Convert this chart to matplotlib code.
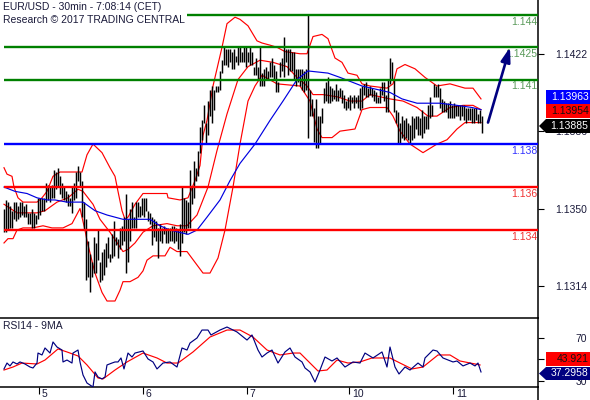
import numpy as np
import matplotlib
matplotlib.use("Agg")
import matplotlib.pyplot as plt
from matplotlib.patches import Polygon, Rectangle

plt.rcParams['font.family'] = ['Liberation Sans', 'DejaVu Sans']

# Prices are stored in 1/10000 units (11440 = 1.1440)
high = [11350,11354,11353,11351,11349,11353,11353,11351,11353,11353,11351,11352,11348,11348,11350,11348,11347,11355,11355,11355,11355,11362,11361,11360,11361,11368,11367,11369,11365,11362,11360,11358,11357,11355,11360,11362,11367,11370,11367,11363,11353,11345,11335,11329,11325,11337,11334,11340,
        11325,11330,11331,11334,11337,11329,11338,11344,11337,11336,11341,11342,11346,11357,11345,11350,11353,11346,11353,11353,11351,11355,11355,11355,11349,11348,11346,11345,11344,11341,11343,11341,11342,11341,11341,11341,11342,11342,11341,11340,11343,11360,11355,11354,11353,11368,11360,11372,11369,11377,
        11388,11391,11398,11390,11400,11405,11407,11405,11407,11407,11414,11419,11425,11424,11424,11424,11423,11424,11421,11425,11425,11423,11425,11425,11423,11425,11423,11416,11420,11416,11425,11413,11415,11416,11414,11418,11420,11417,11414,11409,11418,11420,11430,11424,11424,11424,11423,11423,11415,11415,11415,11415,11414,11415,11440,11405,11401,11397,11401,11393,11393,
        11397,11406,11409,11411,11407,11406,11405,11408,11405,11406,11405,11403,11400,11402,11403,11402,11403,11402,11403,11406,11407,11408,11409,11406,11407,11406,11405,11404,11402,11406,11409,11409,11403,11410,11420,11418,11410,11396,11395,11390,11393,11391,11392,11390,11389,11393,11392,11393,11393,11392,11396,11393,11393,11398,11402,11398,11408,11407,11408,11406,11401,11400,11399,11399,11400,11398,11399,11398,11398,11398,11398,11398,11397,11397,11397,11397,11397,11397,11394,11396,11393]
low = [11339,11339,11340,11341,11341,11345,11344,11345,11346,11347,11346,11346,11343,11343,11341,11341,11343,11345,11347,11349,11349,11353,11354,11353,11355,11355,11359,11360,11357,11355,11354,11353,11351,11351,11348,11354,11355,11363,11360,11346,11340,11317,11318,11311,11318,11320,11320,11326,
       11316,11317,11319,11323,11327,11325,11327,11328,11333,11327,11331,11333,11335,11320,11325,11335,11341,11341,11341,11346,11346,11347,11346,11349,11344,11343,11333,11337,11335,11327,11335,11334,11338,11334,11334,11335,11335,11334,11335,11331,11328,11334,11339,11338,11341,11341,11352,11355,11363,11365,
       11376,11382,11390,11380,11384,11393,11390,11396,11404,11404,11405,11413,11417,11417,11416,11418,11415,11415,11418,11417,11418,11418,11418,11416,11418,11417,11417,11412,11412,11410,11407,11407,11407,11410,11410,11411,11411,11410,11404,11404,11411,11414,11411,11418,11412,11414,11414,11410,11407,11409,11407,11405,11404,11405,11383,11393,11393,11381,11378,11378,11380,
       11390,11399,11400,11399,11399,11400,11401,11400,11400,11402,11399,11397,11396,11397,11396,11399,11397,11399,11397,11396,11397,11403,11402,11402,11403,11402,11400,11399,11399,11399,11403,11400,11395,11395,11408,11410,11395,11390,11380,11380,11383,11382,11383,11382,11380,11382,11383,11387,11384,11384,11383,11385,11387,11387,11392,11393,11402,11402,11402,11397,11395,11395,11395,11392,11392,11392,11392,11393,11393,11391,11393,11391,11390,11391,11391,11390,11390,11391,11390,11390,11385]

upper_x = [0,1.5,4,5,7,9.5,16.5,19,21.5,24.5,28,34,37,39,41.5,44.5,49,53,55.5,57,59,60.5,62,65.5,69.5,74.5,81.5,82,88,92,95.5,98,99.5,101.5,104.5,109,111.5,115.5,118,122,126.5,129,133,136.5,140.5,148,151.5,154.5,159,162,165.5,169,172,176.5,179,183,191.5,194.5,196.5,200.5,205.5,210.5,216.5,223,230.5,234.5,238.5]
upper = [11369,11366,11365,11360,11355,11353,11353,11355,11358,11365,11367,11367,11367,11367,11375,11380,11376,11369,11365,11358,11349,11345,11346,11352,11357,11357,11357,11355,11354,11355,11363,11370,11384,11391,11407,11425,11436,11439,11438,11435,11428,11427,11426,11425,11423,11422,11422,11430,11431,11429,11420,11418,11413,11412,11408,11407,11406,11408,11415,11417,11415,11411,11407,11408,11406,11406,11401]

middle_x = [0,6.5,11.5,16.5,20.5,26.5,32,37,39.5,44.5,48,53,59.5,62,65.5,69.5,74.5,81.5,86.5,91.5,96.5,102,106.5,111.5,117,122,128,134.5,141.5,146.5,151.5,154.5,159.5,166.5,173,179,183,193,199.5,206.5,212,216.5,223,229.5,234.5,238.5]
middle = [11352,11348,11348,11348,11349,11353,11355,11359,11358,11352,11345,11339,11330,11331,11334,11339,11342,11343,11342,11342,11347,11360,11377,11394,11410,11416,11419,11418,11416,11411,11407,11403,11403,11402,11400,11400,11403,11401,11400,11397,11393,11393,11397,11398,11398,11396]

lower_x = [0,2,4.5,6.5,9.5,14.5,19.5,24,29.5,34,38,40.5,41.5,45.5,49,51.5,55.5,58,59.5,63,67,69.5,71.5,74.5,80.5,83,86.5,91.5,95.5,99.5,103,107,110.5,114.5,118,122,125.5,129,136.5,148,153,156.5,159,164,168,175.5,179,183,191.5,194.5,198,203,209.5,216.5,221.5,226.5,230.5,238.5]
lower = [11334,11336,11336,11340,11341,11341,11342,11341,11341,11343,11350,11340,11335,11320,11311,11307,11307,11312,11316,11316,11318,11321,11326,11328,11328,11332,11330,11330,11325,11320,11320,11327,11340,11360,11380,11400,11407,11412,11408,11407,11400,11387,11383,11383,11386,11387,11396,11397,11397,11393,11386,11380,11376,11380,11382,11387,11390,11390]

ma_x = [0,5.5,11.5,16.5,21.5,25.5,31.5,34.5,39.5,45.5,51.5,59.5,67,73,78,83,92,96.5,101.5,108,113,118,125.5,133,139.5,146.5,152,162,168,179,193,199,206.5,218,226.5,234,238.5]
ma = [11360,11358,11357,11355,11354,11354,11353,11353,11353,11349,11347,11345,11345,11345,11342,11340,11338,11340,11346,11354,11363,11371,11380,11391,11400,11410,11414,11413,11411,11407,11404,11401,11399,11399,11398,11397,11396]

rsi_x = [0,1.5,3,4.5,6.5,8,10.5,13,14.5,16.5,17,19,20.5,23,24.5,26.5,29,29.5,31.5,34,34.5,37,38,39.5,41.5,44.5,45.5,47,49,50.5,51.5,54,55.5,57,58.5,60,62,64,65.5,69.5,72,74.5,76.5,79.5,83,86.5,89,91.5,93,96.5,99,102,103.5,108,111.5,116.5,121.5,124,127,129,131.5,134,137,140.5,143,145.5,149,150.5,153,155.5,158,160.5,164,166.5,170.5,174.5,178,180.5,184.5,189,191.5,193,195.5,197.5,200.5,203,207,209.5,210.5,214.5,216.5,219.5,224.5,226.5,229.5,233,235.5,237,238.5]
rsi = [41.2,46.7,44,47.7,45.8,47.7,45.8,43,42.1,46.7,56,54.2,60.7,56,66.3,61.6,58.8,47.7,49.5,46.7,56,58.8,47.7,35.6,28.1,24.4,38.4,33.7,31.9,33.7,44.9,46.7,47.7,47.7,51.4,41.2,56,52.3,56,57.9,50.5,47.7,41.2,46.7,47.7,43,60.7,58.8,65.3,70,77.4,77.4,72.8,77.4,80.2,75.6,68.1,72.8,58.8,52.3,56,58.8,46.7,57,60.7,52.3,47.7,42.1,38.4,29,40.2,52.3,48.6,51.4,43,47.7,46.7,56,51.4,57,43,61.6,43,36.5,43,40.2,46.7,43,51.4,58.8,57.9,51.4,47.7,48.6,44,46.7,44,46.7,38.4]

rsi_ma_x = [0,4.5,9,16.5,20.5,27,31.5,37,41.5,47,49.5,55.5,61.5,69.5,76.5,81.5,87,94.5,103,111.5,118,124.5,131.5,138,144.5,148,151.5,157,161.5,166.5,172,178,184,193,198,204,209.5,217,223,228,238]
rsi_ma = [40.2,43,46.7,45.8,49.5,59.8,57,53.3,44.9,32.8,31.9,40.2,47.7,56,51.4,46.7,46.7,57,70.9,77.4,77.4,70.9,58.8,54.2,56,56,49.5,39.3,40.2,49.5,46.7,47.7,51.4,51.4,46.7,41.2,43,54.2,54.2,48.6,44.9]

levels = [11440, 11425, 11410, 11380, 11360, 11340]
level_start = [91.5, 0, 0, 0, 0, 0]
level_colors = ['#008000', '#008000', '#008000', '#0000ff', '#ff0000', '#ff0000']
level_labels = ['1.144', '1.1425', '1.141', '1.138', '1.136', '1.134']
level_text_colors = ['#5a9a5a', '#5a9a5a', '#5a9a5a', '#3030ff', '#f03030', '#f03030']

day_ticks = [17.5, 69.5, 121.5, 172.5, 224.5]
day_labels = ['5', '6', '7', '10', '11']
price_ticks = [11422, 11386, 11350, 11314]
price_labels = ['1.1422', '1.1386', '1.1350', '1.1314']
rsi_ticks = [70, 50, 30]
rsi_labels = ['70', '50', '30']
arrow_x = [242, 253]
arrow_y = [11390, 11425]

W, H = 590, 400
FS = 7.5
fig = plt.figure(figsize=(W/100, H/100), dpi=100, facecolor='white')

def fx(px): return px / W
def fy(py): return 1 - py / H

ax = fig.add_axes([0, fy(318), 538/W, 318/H])
ax.set_xlim(-2, 267)
ax.set_ylim(11299.1, 11447)
rx = fig.add_axes([0, fy(387), 538/W, 69/H])
rx.set_xlim(-2, 267)
rx.set_ylim(24.4, 88.6)

for a in (ax, rx):
    for s in ('left', 'top', 'bottom'):
        a.spines[s].set_visible(False)
    a.spines['right'].set_linewidth(1.1)
    a.set_xticks([])
    a.patch.set_alpha(0)
rx.spines['top'].set_visible(True)
rx.spines['bottom'].set_visible(True)
rx.spines['top'].set_linewidth(1.1)
rx.spines['bottom'].set_linewidth(1.1)

idx = np.arange(len(high))
ax.plot(upper_x, upper, color='#ff0000', lw=0.85, zorder=2)
ax.plot(middle_x, middle, color='#ff0000', lw=0.85, zorder=2)
ax.plot(lower_x, lower, color='#ff0000', lw=0.85, zorder=2)
ax.vlines(idx, low, high, color='black', lw=1.05, zorder=3)
ax.plot(ma_x, ma, color='#0000e0', lw=0.85, zorder=4)

for lv, st, c in zip(levels, level_start, level_colors):
    ax.plot([st, 267], [lv, lv], color=c, lw=1.7, zorder=5, solid_capstyle='butt')

ly = [22, 54, 86, 151, 194, 237]
for lab, c, y in zip(level_labels, level_text_colors, ly):
    ax.text(fx(537.5), fy(y), lab, color=c, ha='right', va='center', fontsize=FS,
            transform=fig.transFigure, zorder=5.5, clip_on=False)

ax.annotate('', xy=(arrow_x[1], arrow_y[1]), xytext=(arrow_x[0], arrow_y[0]),
            arrowprops=dict(arrowstyle='-|>,head_width=0.28,head_length=0.85',
                            color='#000080', lw=1.9, shrinkA=0, shrinkB=0), zorder=6)

fig.text(fx(3), fy(7.5), 'EUR/USD - 30min - 7:08:14 (CET)', color='#1a1a3a', va='center', fontsize=FS)
fig.text(fx(3), fy(20), 'Research © 2017 TRADING CENTRAL', color='#1a1a3a', va='center', fontsize=FS)
fig.text(fx(3), fy(326), 'RSI14 - 9MA', color='#1a1a3a', va='center', fontsize=FS)

ax.yaxis.tick_right()
ax.set_yticks(price_ticks)
ax.set_yticklabels(price_labels, fontsize=FS, color='#1a1a3a')
ax.tick_params(axis='y', length=4, width=0.8, pad=8.2)

rx.plot(rsi_ma_x, rsi_ma, color='#ff0000', lw=0.85, zorder=2)
rx.plot(rsi_x, rsi, color='#000080', lw=0.85, zorder=3)
rx.yaxis.tick_right()
rx.set_yticks(rsi_ticks)
rx.set_yticklabels(rsi_labels, fontsize=FS, color='#1a1a3a')
rx.tick_params(axis='y', length=4, width=0.8, pad=23)
rx.set_xticks(day_ticks)
rx.set_xticklabels([])
rx.tick_params(axis='x', length=5, width=0.8)
for d, l in zip(day_ticks, day_labels):
    rx.annotate(l, (d, 0), xycoords=('data', 'axes fraction'), xytext=(2, -1.5),
                textcoords='offset points', ha='left', va='top', fontsize=FS, color='#1a1a3a',
                annotation_clip=False)

fig.add_artist(plt.Line2D([fx(538), fx(538)], [fy(387), 0], color='black', lw=1.1))

def box(y0, y1, fc, txt, tc):
    fig.add_artist(Rectangle((fx(546), fy(y1)), 44/W, (y1-y0)/H, transform=fig.transFigure, fc=fc, ec='none', zorder=8))
    fig.text(fx(588.5), fy((y0+y1)/2), txt, color=tc, ha='right', va='center', zorder=9, fontsize=FS)

def tag(y0, y1, fc, txt, tc):
    pts = [(539, (y0+y1)/2), (546, y0), (590, y0), (590, y1), (546, y1)]
    fig.add_artist(Polygon([(fx(a), fy(b)) for a, b in pts], closed=True, transform=fig.transFigure, fc=fc, ec='none', zorder=8))
    fig.text(fx(588.5), fy((y0+y1)/2), txt, color=tc, ha='right', va='center', zorder=9, fontsize=FS)

box(90, 104, '#0000ff', '1.13963', 'white')
box(104, 118, '#ff0000', '1.13954', '#111111')
tag(119, 133, 'black', '1.13885', 'white')
box(352, 366, '#ff0000', '43.921', '#111111')
tag(367, 380, '#000080', '37.2958', 'white')

fig.savefig('out.png', dpi=100, facecolor='white')
